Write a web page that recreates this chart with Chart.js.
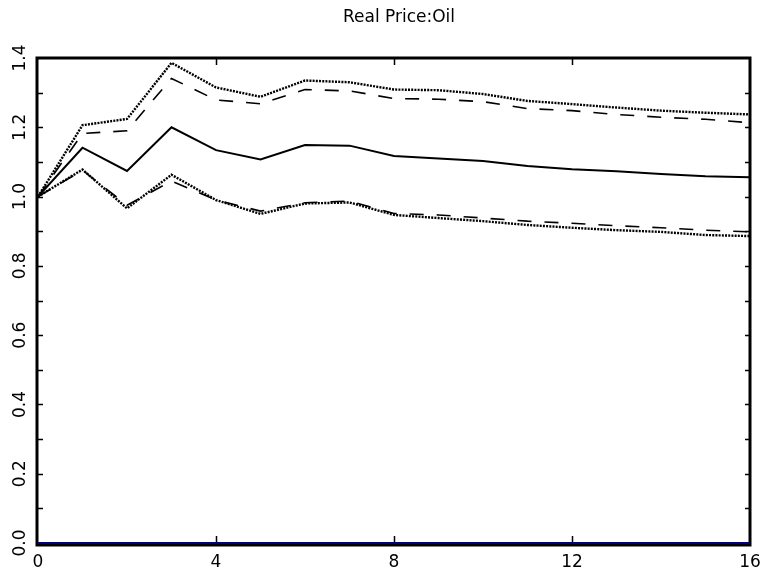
<!DOCTYPE html>
<html>
<head>
<meta charset="utf-8">
<title>Real Price:Oil</title>
<script src="https://cdn.jsdelivr.net/npm/chart.js@4.4.1/dist/chart.umd.min.js"></script>
<style>
  html, body { margin: 0; padding: 0; background: #fff; }
  #wrap { width: 761px; height: 574px; }
</style>
</head>
<body>
<div id="wrap"><canvas id="chartOil" width="761" height="574"></canvas></div>
<script>
// Horizontes (trimestres) e respostas do preço real do petróleo
const horizons = [0, 1, 2, 3, 4, 5, 6, 7, 8, 9, 10, 11, 12, 13, 14, 15, 16];
const median = [1.0, 1.141, 1.074, 1.200, 1.134, 1.107, 1.149, 1.147, 1.117, 1.110, 1.103, 1.088, 1.079, 1.073, 1.065, 1.059, 1.056];
const upperDotted = [1.0, 1.206, 1.224, 1.386, 1.315, 1.288, 1.335, 1.330, 1.309, 1.307, 1.296, 1.276, 1.267, 1.257, 1.248, 1.242, 1.237];
const upperDashed = [1.0, 1.182, 1.190, 1.341, 1.279, 1.268, 1.309, 1.305, 1.283, 1.281, 1.274, 1.254, 1.248, 1.237, 1.229, 1.223, 1.213];
const lowerDashed = [1.0, 1.076, 0.975, 1.045, 0.990, 0.958, 0.982, 0.987, 0.951, 0.947, 0.938, 0.929, 0.923, 0.916, 0.910, 0.903, 0.898];
const lowerDotted = [1.0, 1.078, 0.966, 1.063, 0.990, 0.950, 0.980, 0.983, 0.947, 0.938, 0.929, 0.918, 0.910, 0.903, 0.898, 0.889, 0.886];

const xTicks = [0, 4, 8, 12, 16];
const yTickLabels = ['0.0', '0.2', '0.4', '0.6', '0.8', '1.0', '1.2', '1.4'];
const titleText = 'Real Price:Oil';

const toPoints = (ys) => ys.map((y, i) => ({ x: horizons[i], y: y }));

function serie(data, dash, width, color) {
    return {
        data: toPoints(data),
        borderColor: color || '#000',
        borderWidth: width,
        borderDash: dash,
        borderCapStyle: 'butt',
        pointRadius: 0,
        tension: 0,
        fill: false
    };
}

// Moldura, marcas internas, rótulos e título
const molduraPlugin = {
    id: 'moldura',
    afterDraw(chart) {
        const ctx = chart.ctx;
        const a = chart.chartArea;
        const xs = chart.scales.x;
        const ys = chart.scales.y;
        ctx.save();
        ctx.strokeStyle = '#000';
        ctx.lineWidth = 1.5;

        // marcas do eixo y a cada 0.1, nos dois lados
        for (let k = 1; k < 14; k++) {
            const py = Math.round(ys.getPixelForValue(k / 10)) + 0.5;
            ctx.beginPath();
            ctx.moveTo(a.left, py); ctx.lineTo(a.left + 5, py);
            ctx.moveTo(a.right, py); ctx.lineTo(a.right - 5, py);
            ctx.stroke();
        }
        // marcas do eixo x
        xTicks.slice(1, -1).forEach(v => {
            const px = Math.round(xs.getPixelForValue(v)) + 0.5;
            ctx.beginPath();
            ctx.moveTo(px, a.bottom); ctx.lineTo(px, a.bottom - 7);
            ctx.moveTo(px, a.top); ctx.lineTo(px, a.top + 7);
            ctx.stroke();
        });

        // moldura
        ctx.lineWidth = 3;
        ctx.strokeRect(a.left - 1, a.top, a.right - a.left + 1, a.bottom - a.top + 2);

        // linha do zero em azul
        ctx.strokeStyle = '#00007a';
        ctx.lineWidth = 2;
        const p0 = ys.getPixelForValue(0);
        ctx.beginPath();
        ctx.moveTo(a.left, p0); ctx.lineTo(a.right, p0);
        ctx.stroke();

        // rótulos
        ctx.fillStyle = '#000';
        ctx.font = '17px "DejaVu Sans"';
        ctx.textAlign = 'center';
        ctx.textBaseline = 'middle';
        xTicks.forEach(v => {
            ctx.fillText(String(v), xs.getPixelForValue(v), a.bottom + 20);
        });
        yTickLabels.forEach(lbl => {
            const py = ys.getPixelForValue(parseFloat(lbl));
            ctx.save();
            ctx.translate(a.left - 17, py);
            ctx.rotate(-Math.PI / 2);
            ctx.fillText(lbl, 0, 0);
            ctx.restore();
        });

        ctx.font = '17px "DejaVu Sans"';
        ctx.fillText(titleText, (a.left + a.right) / 2 + 5, 18);
        ctx.restore();
    }
};

const ctxOil = document.getElementById('chartOil').getContext('2d');
const chartOil = new Chart(ctxOil, {
    type: 'line',
    data: {
        datasets: [
            serie(upperDotted, [2, 1.2], 2.4),
            serie(upperDashed, [14, 13], 1.6),
            serie(median, [], 2),
            serie(lowerDashed, [14, 13], 1.6),
            serie(lowerDotted, [2, 1.2], 2.4)
        ]
    },
    options: {
        responsive: false,
        animation: false,
        layout: { padding: { left: 38, right: 11, top: 58, bottom: 31 } },
        plugins: {
            legend: { display: false },
            title: { display: false },
            tooltip: { enabled: false }
        },
        scales: {
            x: {
                type: 'linear',
                min: 0,
                max: 16,
                display: false
            },
            y: {
                min: 0,
                max: 1.4,
                display: false
            }
        }
    },
    plugins: [molduraPlugin]
});
</script>
</body>
</html>
